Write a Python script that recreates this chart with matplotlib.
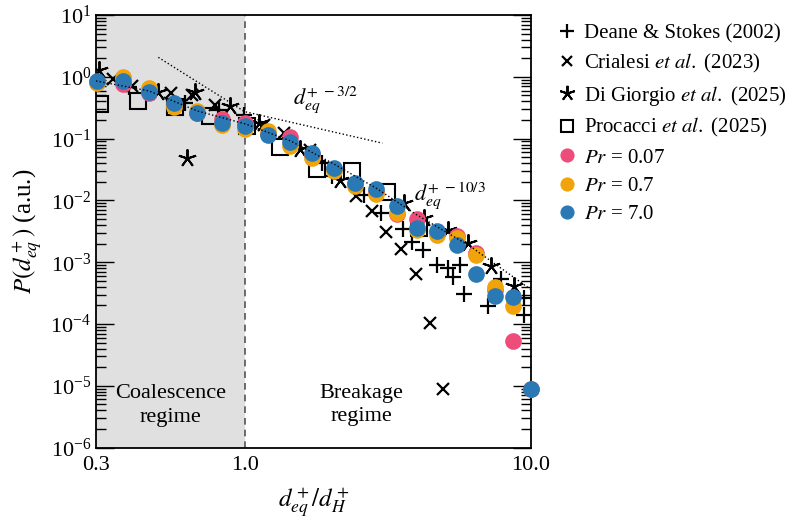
import numpy as np
import matplotlib.pyplot as plt
from matplotlib.ticker import LogLocator, NullLocator, NullFormatter

plt.rcParams['font.family'] = 'serif'
plt.rcParams['font.serif'] = ['Liberation Serif', 'DejaVu Serif']
plt.rcParams['mathtext.fontset'] = 'stix'
plt.rcParams['font.size'] = 16

# ---- simulation data (three Prandtl numbers) ----
pr_x = [0.303, 0.372, 0.459, 0.562, 0.678, 0.826, 0.994, 1.197, 1.438, 1.714, 2.04,
        2.418, 2.857, 3.388, 3.98, 4.68, 5.50, 6.41, 7.48, 8.69, 10.0]
pr007 = [0.827, 0.768, 0.543, 0.365, 0.261, 0.207, 0.182, 0.120, 0.106, 0.0547, 0.0325,
         0.0186, 0.0138, 0.0061, 0.0050, 0.00312, 0.00269, 0.00143, 0.000361, 5.27e-5, 8.9e-6]
pr07 = [0.788, 1.007, 0.654, 0.330, 0.284, 0.167, 0.144, 0.134, 0.0765, 0.0484, 0.0305,
        0.0173, 0.0128, 0.00633, 0.0033, 0.00279, 0.00247, 0.00133, 0.000399, 0.000194, np.nan]
pr7 = [0.868, 0.868, 0.577, 0.375, 0.258, 0.178, 0.163, 0.115, 0.0878, 0.0596, 0.0334,
       0.0195, 0.0153, 0.00806, 0.00362, 0.00324, 0.00189, 0.000655, 0.000289, 0.000273, 8.9e-6]

# ---- literature data ----
deane_x = [0.393, 0.616, 0.806, 0.986, 1.863, 2.015, 2.601, 2.988, 3.576, 3.845, 4.18,
           4.679, 5.115, 5.347, 5.657, 5.82, 7.066, 7.847, 9.474, 9.474]
deane_y = [0.679, 0.375, 0.292, 0.242, 0.0406, 0.0251, 0.01236, 0.00621, 0.00349, 0.00215, 0.00157,
           0.000898, 0.000809, 0.000579, 0.000915, 0.000305, 0.000199, 0.000543, 0.000265, 0.00014]

crialesi_x = [0.3455, 0.401, 0.55, 0.652, 0.785, 1.166, 1.37, 1.69, 2.432, 2.783, 3.099,
              3.499, 3.95, 4.434, 4.939]
crialesi_y = [0.915, 0.713, 0.543, 0.51, 0.352, 0.167, 0.124, 0.0659, 0.0116, 0.00664, 0.00306,
              0.00163, 0.000655, 0.000102, 8.98e-6]

digiorgio_x = [0.308, 0.496, 0.6245, 0.668, 0.881, 1.114, 1.55, 2.154, 3.593, 4.223, 5.127,
               6.045, 7.239, 8.738]
digiorgio_y = [1.269, 0.577, 0.0484, 0.577, 0.339, 0.18, 0.0677, 0.0216, 0.00908, 0.0052, 0.00328,
               0.00205, 0.00088, 0.000408]

procacci_x = [0.31, 0.422, 0.568, 0.754, 1.016, 1.327, 1.785, 2.368, 3.143, 4.057]
procacci_y = [0.361, 0.413, 0.323, 0.2335, 0.158, 0.0746, 0.0325, 0.0302, 0.0138, 0.00362]

# ---- guide lines ----
guide32_x = [0.496, 0.994, 3.02]
guide32_y = [2.07, 0.274, 0.0846]
guide103_x = [0.300, 0.4604, 0.6785, 1.0, 1.438, 2.036, 2.857, 3.981, 6.16, 10.0]
guide103_y = [0.859, 0.592, 0.281, 0.1734, 0.0921, 0.0392, 0.01603, 0.00587, 0.001787, 0.000361]

fig = plt.figure(figsize=(7.9, 5.21), dpi=100)
ax = fig.add_axes([0.1215, 0.141, 0.5505, 0.830])
ax.set_xscale('log')
ax.set_yscale('log')

ax.axvspan(0.3, 1.0, facecolor='#e0e0e0', edgecolor='none', zorder=0)
ax.axvline(1.0, color='#555555', ls=(0, (4, 3)), lw=1.2, zorder=1)

ax.plot(guide32_x, guide32_y, ls=':', color='black', lw=1.0, zorder=6)

ax.plot(deane_x, deane_y, ls='none', marker='+', ms=12, mew=1.6, color='black',
        label='Deane & Stokes (2002)', zorder=3)
ax.plot(crialesi_x, crialesi_y, ls='none', marker='x', ms=8, mew=1.6, color='black',
        label=r'Crialesi $\mathit{et\ al.}$ (2023)', zorder=3)
ax.plot(digiorgio_x, digiorgio_y, ls='none', marker=(5, 2, 0), ms=13, mew=1.4, color='black',
        label=r'Di Giorgio $\mathit{et\ al.}$ (2025)', zorder=3)
ax.plot(procacci_x, procacci_y, ls='none', marker='s', ms=11, mew=1.5, mfc='none', mec='black',
        label=r'Procacci $\mathit{et\ al.}$ (2025)', zorder=3)

ax.plot(pr_x, pr007, ls='none', marker='o', ms=12, mew=0, color='#ee4d7a',
        label=r'$Pr$ = 0.07', zorder=4, clip_on=False)
ax.plot(pr_x, pr07, ls='none', marker='o', ms=12, mew=0, color='#f0a30a',
        label=r'$Pr$ = 0.7', zorder=4, clip_on=False)
ax.plot(pr_x, pr7, ls='none', marker='o', ms=12, mew=0, color='#2a79b5',
        label=r'$Pr$ = 7.0', zorder=4, clip_on=False)

ax.plot(guide103_x, guide103_y, ls=':', color='black', lw=1.0, zorder=6)

ax.text(1.909, 0.423, r'$d_{eq}^{+\ -3/2}$', ha='center', va='center', fontsize=16)
ax.text(5.196, 0.0118, r'$d_{eq}^{+\ -10/3}$', ha='center', va='center', fontsize=16)
ax.text(0.548, 4.8e-6, 'Coalescence\nregime', ha='center', va='center', fontsize=16,
        linespacing=1.3)
ax.text(2.553, 4.9e-6, 'Breakage\nregime', ha='center', va='center', fontsize=16,
        linespacing=1.3)

ax.set_xlim(0.3, 10)
ax.set_ylim(1e-6, 10)
ax.set_xticks([0.3, 1.0, 10.0])
ax.set_xticklabels(['0.3', '1.0', '10.0'])
ax.xaxis.set_minor_locator(NullLocator())
ax.yaxis.set_major_locator(LogLocator(base=10, numticks=20))
ax.yaxis.set_minor_locator(LogLocator(base=10, subs=np.arange(2, 10), numticks=20))
ax.yaxis.set_minor_formatter(NullFormatter())
ax.tick_params(axis='x', direction='in', length=0, pad=6, labelsize=16)
ax.tick_params(axis='y', which='major', direction='in', length=13, width=1, right=True, labelsize=16)
ax.tick_params(axis='y', which='minor', direction='in', length=7, width=1, right=True)
for s in ax.spines.values():
    s.set_linewidth(1.3)

ax.set_xlabel(r'$d^+_{eq}/d^+_H$', fontsize=18, labelpad=8)
ax.set_ylabel(r'$P(d^+_{eq})$ (a.u.)', fontsize=18, labelpad=4)

ax.legend(loc='upper left', bbox_to_anchor=(1.04, 1.0), frameon=False, fontsize=15,
          handletextpad=0.3, labelspacing=0.42, borderaxespad=0, handlelength=1.0,
          markerscale=0.85)

fig.savefig('out.png', dpi=100)
